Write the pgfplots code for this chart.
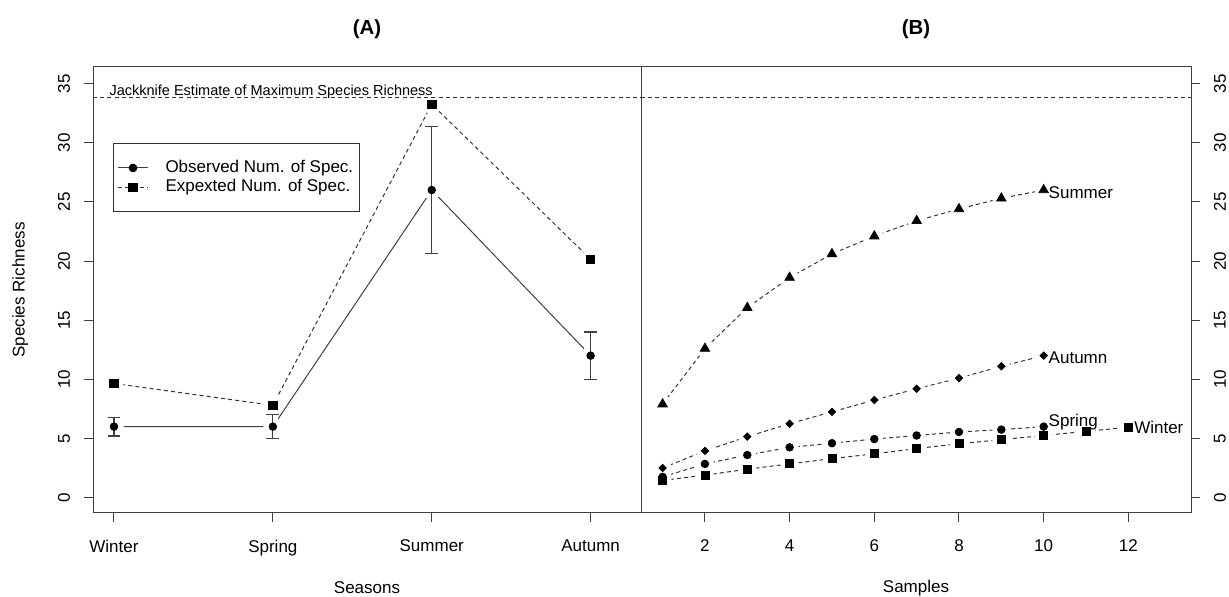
\documentclass[border=0pt]{standalone}
\usepackage{fontspec}
\setmainfont{Liberation Sans}
\usepackage{pgfplots}
\usepackage{pgfplotstable}
\pgfplotsset{compat=1.18}

\pgfplotstableread{
x obs err exp
0 6 0.8 9.65
1 6 1.0 7.8
2 26 5.35 33.25
3 12 2.0 20.15
}\seasons

\pgfplotstableread{
x summer autumn spring winter
1 7.9 2.5 1.75 1.45
2 12.6 3.95 2.85 1.9
3 16.05 5.15 3.6 2.4
4 18.6 6.25 4.25 2.85
5 20.6 7.25 4.6 3.3
6 22.1 8.25 4.95 3.7
7 23.4 9.2 5.25 4.15
8 24.4 10.1 5.55 4.55
9 25.3 11.1 5.75 4.9
10 26.0 12.0 6.0 5.25
11 nan nan nan 5.6
12 nan nan nan 5.95
}\samples

\pgfplotsset{
  rstyle/.style={
    scale only axis, height=223pt, anchor=south west,
    clip marker paths=true,
    ymin=-1.3, ymax=36.4,
    ytick={0,5,...,35},
    tick align=outside, major tick length=4.5pt,
    axis line style={black!75, line width=0.5pt},
    tick style={black!75, line width=0.5pt},
    font=\fontsize{8.5}{10}\selectfont,
    /pgf/number format/assume math mode=true,
    xticklabel style={anchor=north, inner sep=0pt},
    xticklabel shift=8.8pt,
    xtick pos=left,
    xlabel style={at={(axis description cs:0.5,-0.168)}, anchor=center, font=\fontsize{8.5}{10}\selectfont},
    title style={at={(axis description cs:0.5,1.058)}, anchor=center, font=\fontsize{10.2}{12}\selectfont\bfseries},
  },
  halo/.style={only marks, mark=*, mark size=4.6pt, white, forget plot},
  dline/.style={black!80, line width=0.5pt, dash pattern=on 2pt off 1.6pt, forget plot},
}

\begin{document}
\begin{tikzpicture}[x=1pt,y=1pt]
\useasboundingbox (0,0) rectangle (614.5,298.5);

% ---------------- Panel A ----------------
\begin{axis}[rstyle,
  at={(46.5pt,42pt)}, width=274pt,
  xmin=-0.132, xmax=3.317,
  xtick={0,1,2,3}, xticklabels={Winter,Spring,Summer,Autumn},
  ytick pos=left,
  yticklabel style={rotate=90, anchor=south, inner sep=0pt},
  yticklabel shift=6.75pt,
  xlabel={Seasons},
  ylabel={Species Richness},
  ylabel style={at={(axis description cs:-0.133,0.5)}, anchor=center, font=\fontsize{8.5}{10}\selectfont},
  title={(A)},
  legend style={at={(rel axis cs:0.0365,0.83)}, anchor=north west,
    draw=black!80, line width=0.5pt, font=\fontsize{8.5}{10}\selectfont,
    inner xsep=2pt, inner ysep=7.5pt, row sep=0pt,
    nodes={inner sep=1pt},
    /tikz/every odd column/.append style={column sep=7.5pt}},
  legend cell align=left,
  legend image code/.code={\draw[#1, mark=none] plot coordinates {(0pt,0pt) (15pt,0pt)};
     \draw[#1, mark repeat=2, mark phase=2, draw=none] plot coordinates {(0pt,0pt) (7.5pt,0pt) (15pt,0pt)};},
]
\addlegendimage{black!75, line width=0.5pt, mark=*, mark size=1.9pt, mark options={solid, fill=black, draw=black}}
\addlegendentry{Observed Num. of Spec.}
\addlegendimage{black!80, line width=0.5pt, dash pattern=on 2pt off 1.6pt, mark=square*, mark size=2.1pt, mark options={solid, fill=black, draw=black}}
\addlegendentry{Expexted Num. of Spec.}

\addplot[black!75, line width=0.5pt, forget plot] table[x=x, y=obs] {\seasons};
\addplot[dline] table[x=x, y=exp] {\seasons};
\addplot[halo] table[x=x, y=obs] {\seasons};
\addplot[halo] table[x=x, y=exp] {\seasons};
\addplot[dline] coordinates {(-0.132,33.8) (3.317,33.8)};
\addplot[only marks, mark=*, mark size=1.9pt, black, forget plot,
  error bars/.cd, y dir=both, y explicit,
  error bar style={black!75, line width=0.6pt},
  error mark options={rotate=90, mark size=3.2pt, black!75, line width=0.6pt}]
  table[x=x, y=obs, y error=err] {\seasons};
\addplot[only marks, mark=square*, mark size=2.1pt, black, forget plot] table[x=x, y=exp] {\seasons};
\node[anchor=base west, inner sep=0pt, font=\fontsize{7.25}{8}\selectfont] at (axis cs:-0.03,34.0) {Jackknife Estimate of Maximum Species Richness};
\end{axis}

% ---------------- Panel B ----------------
\begin{axis}[rstyle,
  at={(320.5pt,42pt)}, width=275pt,
  xmin=0.49, xmax=13.48,
  xtick={2,4,...,12},
  ytick pos=right, yticklabel pos=right,
  yticklabel style={rotate=90, anchor=north, inner sep=0pt},
  yticklabel shift=6.75pt,
  xlabel={Samples},
  title={(B)},
]
\addplot[dline] table[x=x, y=summer] {\samples};
\addplot[dline] table[x=x, y=autumn] {\samples};
\addplot[dline] table[x=x, y=spring] {\samples};
\addplot[dline] table[x=x, y=winter] {\samples};
\addplot[halo, mark size=4.3pt] table[x=x, y=summer] {\samples};
\addplot[halo, mark size=4.3pt] table[x=x, y=autumn] {\samples};
\addplot[halo, mark size=4.3pt] table[x=x, y=spring] {\samples};
\addplot[halo, mark size=4.3pt] table[x=x, y=winter] {\samples};
\addplot[dline] coordinates {(0.49,33.8) (13.48,33.8)};
\addplot[only marks, mark=triangle*, mark size=2.7pt, black, forget plot] table[x=x, y=summer] {\samples};
\addplot[only marks, mark=square*, mark size=1.3pt, mark options={rotate=45}, black, forget plot] table[x=x, y=autumn] {\samples};
\addplot[only marks, mark=*, mark size=1.9pt, black, forget plot] table[x=x, y=spring] {\samples};
\addplot[only marks, mark=square*, mark size=2.0pt, black, forget plot] table[x=x, y=winter] {\samples};
\node[anchor=base west, inner sep=0pt] at (axis cs:10.11,25.27) {Summer};
\node[anchor=base west, inner sep=0pt] at (axis cs:10.11,11.35) {Autumn};
\node[anchor=base west, inner sep=0pt] at (axis cs:10.11,6.05) {Spring};
\node[anchor=base west, inner sep=0pt] at (axis cs:12.13,5.44) {Winter};
\end{axis}
\end{tikzpicture}
\end{document}
